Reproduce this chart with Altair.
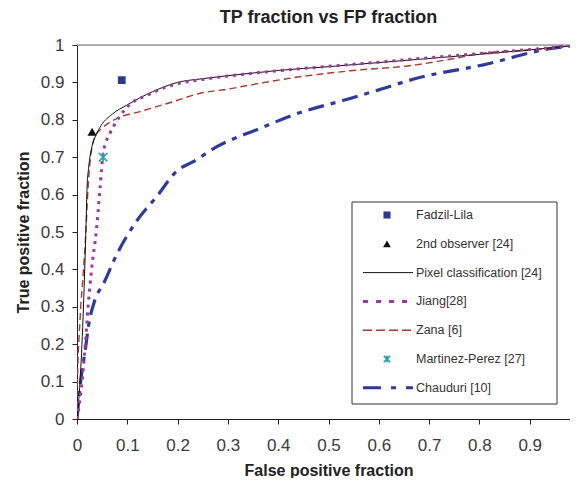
import altair as alt
import pandas as pd

# ---------------- data ----------------
pixel_fpf = [0, 0.006, 0.012, 0.018, 0.020, 0.023, 0.030, 0.038, 0.048, 0.070, 0.100, 0.150, 0.200, 0.250, 0.300, 0.350, 0.400, 0.500, 0.600, 0.700, 0.800, 0.900, 1.0]
pixel_tpf = [0, 0.100, 0.270, 0.520, 0.620, 0.670, 0.730, 0.760, 0.785, 0.815, 0.840, 0.875, 0.900, 0.910, 0.918, 0.925, 0.932, 0.942, 0.953, 0.964, 0.975, 0.987, 1.0]

jiang_fpf = [0, 0.009, 0.016, 0.022, 0.029, 0.039, 0.046, 0.052, 0.066, 0.076, 0.100, 0.140, 0.190, 0.250, 0.300, 0.400, 0.500, 0.600, 0.700, 0.800, 0.900, 1.0]
jiang_tpf = [0, 0.086, 0.190, 0.300, 0.400, 0.510, 0.620, 0.710, 0.765, 0.790, 0.835, 0.866, 0.893, 0.908, 0.917, 0.931, 0.943, 0.954, 0.966, 0.977, 0.988, 1.0]

zana_fpf = [0, 0.0, 0.006, 0.013, 0.018, 0.021, 0.025, 0.036, 0.052, 0.080, 0.125, 0.190, 0.245, 0.300, 0.344, 0.443, 0.543, 0.675, 0.742, 0.808, 0.907, 1.0]
zana_tpf = [0, 0.050, 0.265, 0.400, 0.510, 0.594, 0.675, 0.755, 0.780, 0.804, 0.822, 0.848, 0.871, 0.882, 0.893, 0.915, 0.931, 0.947, 0.962, 0.978, 0.987, 1.0]

chaud_fpf = [0, 0.009, 0.016, 0.023, 0.036, 0.052, 0.079, 0.119, 0.158, 0.200, 0.231, 0.278, 0.364, 0.430, 0.543, 0.600, 0.675, 0.808, 0.940, 1.0]
chaud_tpf = [0, 0.120, 0.180, 0.250, 0.320, 0.360, 0.440, 0.530, 0.594, 0.665, 0.688, 0.728, 0.777, 0.813, 0.857, 0.880, 0.911, 0.947, 0.990, 1.0]

point_names = ["Fadzil-Lila", "2nd observer [24]", "Martinez-Perez [27]"]
point_fpf = [0.089, 0.030, 0.052]
point_tpf = [0.906, 0.768, 0.700]

legend_names = ["Fadzil-Lila", "2nd observer [24]", "Pixel classification [24]", "Jiang[28]",
                "Zana [6]", "Martinez-Perez [27]", "Chauduri [10]"]

x_ticks = [0, 0.1, 0.2, 0.3, 0.4, 0.5, 0.6, 0.7, 0.8, 0.9, 1]
y_ticks = [0, 0.1, 0.2, 0.3, 0.4, 0.5, 0.6, 0.7, 0.8, 0.9, 1]

# ---------------- styling ----------------
FONT = "Liberation Sans"
W, H = 503, 374
C_NAVY = "#2B3990"
C_BLUE = "#2E3A9E"
C_PURPLE = "#9B3A9E"
C_RED = "#A43B2E"
C_TEAL = "#22A3A8"
C_BLACK = "#111111"
ASTERISK = "M-1,-1L1,1M-1,1L1,-1M0,-1.1L0,1.1"

xs = alt.Scale(domain=[0, 1], nice=False, zero=False)
ys = alt.Scale(domain=[0, 1], nice=False, zero=False)

xaxis = alt.Axis(values=x_ticks, format="~g", grid=False, tickSize=5, tickColor="#222",
                 domainColor="#222", labelFont=FONT, labelFontSize=17, labelColor="#3a3a3a",
                 labelPadding=13, labelFlush=False, labelOverlap=False,
                 title="False positive fraction",
                 titleFont=FONT, titleFontSize=16, titleFontWeight="bold", titleColor="#222",
                 titlePadding=9)
yaxis = alt.Axis(values=y_ticks, format="~g", grid=False, tickSize=5, tickColor="#222",
                 domainColor="#222", labelFont=FONT, labelFontSize=17, labelColor="#3a3a3a",
                 labelPadding=8, labelFlush=False, labelOverlap=False,
                 title="True positive fraction",
                 titleFont=FONT, titleFontSize=16, titleFontWeight="bold", titleColor="#222",
                 titlePadding=9)

X = alt.X("fpf:Q", scale=xs, axis=xaxis)
Y = alt.Y("tpf:Q", scale=ys, axis=yaxis)


def line_layer(xv, yv, color, width, dash=None):
    df = pd.DataFrame({"fpf": xv, "tpf": yv, "i": list(range(len(xv)))})
    kw = dict(color=color, strokeWidth=width, clip=True, interpolate="monotone")
    if dash:
        kw["strokeDash"] = dash
    return alt.Chart(df).mark_line(**kw).encode(x=X, y=Y, order="i:Q")


# top frame line
top_rule = alt.Chart(pd.DataFrame({"tpf": [1]})).mark_rule(color="#999999", strokeWidth=1.5).encode(y=Y)

l_chaud = line_layer(chaud_fpf, chaud_tpf, C_BLUE, 3.2, [16, 7, 5, 7])
l_zana = line_layer(zana_fpf, zana_tpf, C_RED, 1.4, [7, 4])
l_pixel = line_layer(pixel_fpf, pixel_tpf, C_BLACK, 1.0)
l_jiang = line_layer(jiang_fpf, jiang_tpf, C_PURPLE, 3.0, [3, 5])

pts = pd.DataFrame({"name": point_names, "fpf": point_fpf, "tpf": point_tpf})
p_sq = alt.Chart(pts).transform_filter(alt.datum.name == "Fadzil-Lila").mark_point(
    shape="square", filled=True, color=C_NAVY, size=60, opacity=1).encode(x=X, y=Y)
p_tri = alt.Chart(pts).transform_filter(alt.datum.name == "2nd observer [24]").mark_point(
    shape="triangle-up", filled=True, color=C_BLACK, size=85, opacity=1).encode(x=X, y=Y)
p_ast = alt.Chart(pts).transform_filter(alt.datum.name == "Martinez-Perez [27]").mark_point(
    shape=ASTERISK, filled=False, color=C_TEAL, size=70, strokeWidth=1.6, opacity=1).encode(x=X, y=Y)

# ---------------- manual legend (pixel layout inside plot area) ----------------
LX0, LX1, LY0, LY1 = 275, 480, 157, 359
SYM_X, LINE_X0, LINE_X1, TEXT_X = 310, 286, 336, 339
ROW0, STEP = 170, 28.8
one = pd.DataFrame({"a": [0]})

legend_layers = [
    alt.Chart(one).mark_rect(fill="white", stroke="#333", strokeWidth=1).encode(
        x=alt.value(LX0), x2=alt.value(LX1), y=alt.value(LY0), y2=alt.value(LY1))
]
styles = {
    "Fadzil-Lila": ("point", dict(shape="square", filled=True, color=C_NAVY, size=50)),
    "2nd observer [24]": ("point", dict(shape="triangle-up", filled=True, color=C_BLACK, size=60)),
    "Pixel classification [24]": ("line", dict(color=C_BLACK, strokeWidth=1.0)),
    "Jiang[28]": ("line", dict(color=C_PURPLE, strokeWidth=3.0, strokeDash=[5, 8])),
    "Zana [6]": ("line", dict(color=C_RED, strokeWidth=1.4, strokeDash=[9, 4])),
    "Martinez-Perez [27]": ("point", dict(shape=ASTERISK, filled=False, color=C_TEAL, size=40, strokeWidth=1.6)),
    "Chauduri [10]": ("line", dict(color=C_BLUE, strokeWidth=3.0, strokeDash=[18, 10, 5, 10])),
}
for k, name in enumerate(legend_names):
    yy = ROW0 + k * STEP
    kind, st = styles[name]
    if kind == "point":
        legend_layers.append(alt.Chart(one).mark_point(opacity=1, **st).encode(
            x=alt.value(SYM_X), y=alt.value(yy)))
    else:
        legend_layers.append(alt.Chart(one).mark_rule(**st).encode(
            x=alt.value(LINE_X0), x2=alt.value(LINE_X1), y=alt.value(yy)))
    legend_layers.append(alt.Chart(pd.DataFrame({"t": [name]})).mark_text(
        align="left", baseline="middle", font=FONT, fontSize=12.5, color="#333").encode(
        x=alt.value(TEXT_X), y=alt.value(yy), text="t:N"))

chart = alt.layer(
    top_rule, l_chaud, l_zana, l_pixel, l_jiang, p_sq, p_tri, p_ast, *legend_layers
).properties(
    width=W, height=H,
    title=alt.TitleParams("TP fraction vs FP fraction", font=FONT, fontSize=18,
                          fontWeight="bold", color="#222", anchor="middle", offset=9),
    autosize=alt.AutoSizeParams(type="none"),
    padding={"left": 69, "top": 37, "right": -10, "bottom": 59},
).configure_view(stroke=None).configure_axis(labelOverlap=False).configure(background="white")

chart.save("out.html", embed_options={"renderer": "svg", "actions": False})
